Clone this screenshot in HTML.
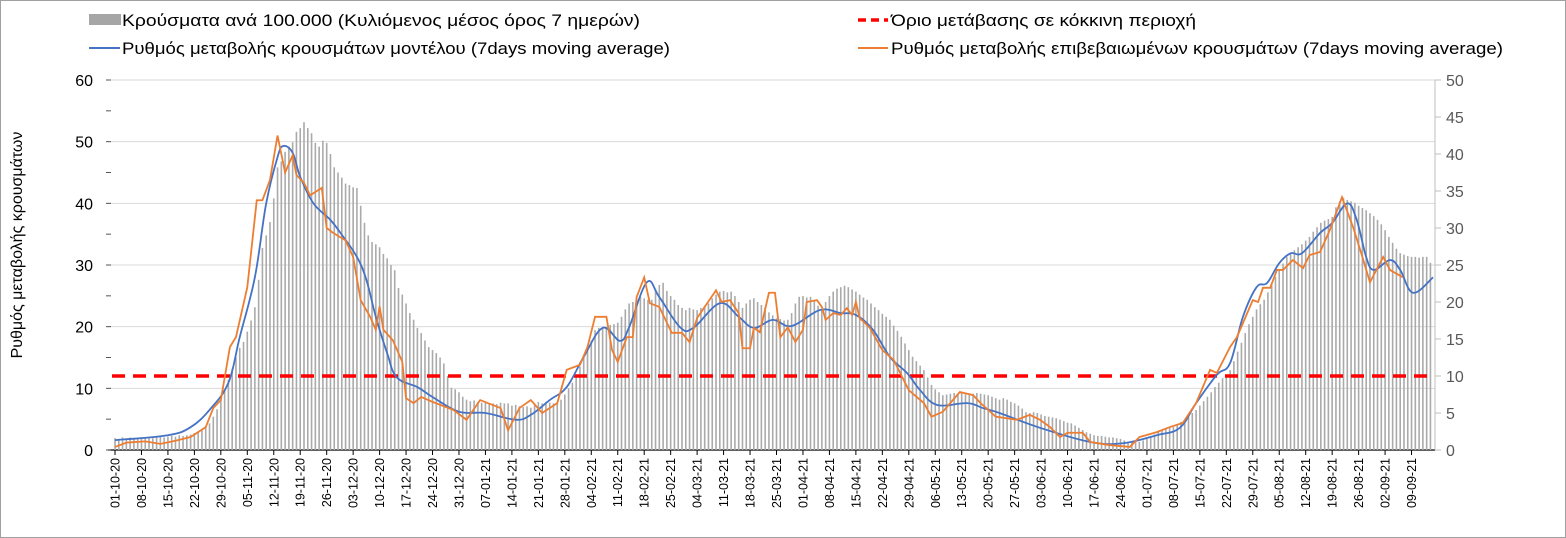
<!DOCTYPE html>
<html><head><meta charset="utf-8"><style>
html,body{margin:0;padding:0;background:#fff}
svg{display:block;font-family:"Liberation Sans",Arial,sans-serif}
</style></head><body>
<svg id="chart" width="1566" height="538" viewBox="0 0 1566 538" xmlns="http://www.w3.org/2000/svg">
<rect x="0.5" y="0.5" width="1565" height="537" fill="#fff" stroke="#a0a0a0"/>
<g id="grid"></g>
<g id="bars"></g>
<line id="thr" x1="112" x2="1435" stroke="#ff0000" stroke-width="3.5" stroke-dasharray="13,8"/>
<path id="blue" fill="none" stroke="#4472c4" stroke-width="1.8"/>
<path id="orange" fill="none" stroke="#ed7d31" stroke-width="1.8"/>
<g id="axes"></g>
<text transform="translate(22,245) rotate(-90)" text-anchor="middle" font-size="16" fill="#000">Ρυθμός μεταβολής κρουσμάτων</text>
<g font-size="17" fill="#000">
<g><rect x="89" y="14" width="32" height="11" fill="#a6a6a6"/><text x="122" y="26" textLength="518" lengthAdjust="spacingAndGlyphs">Κρούσματα ανά 100.000 (Κυλιόμενος μέσος όρος 7 ημερών)</text></g>
<g><line x1="858" x2="888" y1="20" y2="20" stroke="#ff0000" stroke-width="3.5" stroke-dasharray="8,5"/><text x="891" y="26" textLength="305" lengthAdjust="spacingAndGlyphs">Όριο μετάβασης σε κόκκινη περιοχή</text></g>
<g><line x1="89" x2="120" y1="48" y2="48" stroke="#4472c4" stroke-width="2"/><text x="122" y="54" textLength="548" lengthAdjust="spacingAndGlyphs">Ρυθμός μεταβολής κρουσμάτων μοντέλου (7days moving average)</text></g>
<g><line x1="858" x2="888" y1="48" y2="48" stroke="#ed7d31" stroke-width="2"/><text x="891" y="54" textLength="612" lengthAdjust="spacingAndGlyphs">Ρυθμός μεταβολής επιβεβαιωμένων κρουσμάτων (7days moving average)</text></g>
</g>
</svg>
<script>
const leftTicks=[0,10,20,30,40,50,60];
const rightTicks=[0,5,10,15,20,25,30,35,40,45,50];
const threshold=12;
const startDate=new Date(2020,9,1);
const caseBars=[1.6,1.5,1.7,1.6,1.7,1.6,1.5,1.7,1.6,1.7,
1.6,1.7,1.8,1.7,1.8,1.9,1.8,2.0,1.9,2.0,
2.1,2.3,2.5,2.8,3.2,3.6,4.5,5.5,6.8,8.2,
9.5,11,12.5,13.8,14.6,16,17.5,19.3,23,27.3,
29,30.8,34,38.2,39,40.3,41,41.6,43,43.5,
44.3,43.5,42.8,41.5,41,41.8,41.5,40,38.2,37.5,
36.8,36,35.8,35.5,35.4,33,30.7,29,28.1,27.8,
27.4,26.5,25.9,25,24.3,21.9,21,19.8,18.5,17.6,
16.5,15.8,14.8,13.9,13.5,13.1,12.5,11.7,10,8.4,
8.2,7.8,7.2,6.8,6.6,6.7,6.5,6.4,6.5,6.3,
6.3,6.2,6.4,6.3,6.3,6.0,6.1,5.9,5.8,5.9,
5.7,6.0,6.5,6.3,6.5,6.4,6.3,6.5,6.8,7.5,
8.3,9.1,10,11.3,12.6,13.5,14.8,16.2,16.5,16.4,
16.6,16.9,17,17.2,18,19,19.8,20,20.5,20.7,
20.5,20.3,20.3,21.5,22.3,22.6,21.5,20.8,20.3,19.6,
19.2,18.9,19.2,19,18.9,19.2,19.5,19.8,20.5,21,
21.4,21.5,21.3,21.4,20.8,20,19.2,19.8,20.3,20.5,
20,19.6,19.3,18.6,18.2,17.8,17.7,17.5,17.6,18.5,
19.8,20.7,20.8,20.6,20.7,20.1,19.5,18.9,20,20.8,
21.4,21.8,22,22.2,22,21.7,21.4,21,20.6,20.3,
19.8,19.3,18.9,18.4,18,17.6,16.8,16.1,15.3,14.4,
13.5,12.6,12,11.4,10.8,9.8,8.8,8.2,7.8,7.4,
7.5,7.6,7.7,7.6,7.7,7.7,7.5,7.6,7.7,7.6,
7.5,7.4,7.2,7.0,6.8,7.0,6.8,6.5,6.3,6.0,
5.6,5.1,5.0,5.1,5.0,4.8,4.6,4.5,4.4,4.3,
4.1,3.9,3.7,3.6,3.3,3.0,2.7,2.4,2.2,2.0,
1.9,1.9,1.8,1.7,1.7,1.6,1.5,1.3,1.1,1.1,
1.1,1.1,1.3,1.5,1.8,2.1,2.4,2.7,2.9,3.0,
3.1,3.4,3.8,4.1,4.5,5.0,5.4,6.0,6.6,7.2,
7.8,8.5,9.1,9.7,10.2,10.8,12,13.3,14.5,15.8,
17,18,19,19.7,20.3,21.3,22.4,23.4,24.3,25.2,
26.1,26.6,27,27.4,27.8,28.3,28.8,29.5,30.1,30.7,
31,31.2,31.5,32.8,33.6,34.1,33.8,33.6,33.4,33.0,
32.7,32.4,32,31.6,31.1,30.5,29.7,28.8,28,27.2,
26.6,26.4,26.2,26.1,26.1,26,26.1,26.1,25.3];
const blueDays=[0,14,20,25,30,33,37,40,43,44.5,47,49,52.5,57,60,64,66.5,69,72,74.5,80,84,91,98,106,110,115,119.5,124,129,133.6,136,140.7,144,149.5,153,160,165,169,174,179,186.5,192,196,200.5,205,209.5,213,217.5,225.5,229.6,234,244.7,258,266.7,275.6,281.7,286,291.5,295,298.4,302,304.8,308,311,314,318.8,322,326,328.5,331,333,337.3,340,343.4,348.7];
const blueVals=[1.6,2.4,3.7,6.5,10.9,18.3,28,40,47.5,49.3,48.2,44.3,40,37.3,34.9,31.3,27.6,21.6,15.7,11.8,10.2,8.6,6.2,6.0,4.9,5.7,8.1,10.2,15.1,19.8,17.7,19.9,27.2,24.8,19.9,19.8,23.8,21.6,19.8,21.1,20.1,22.7,22.2,21.9,19.5,15.1,12.5,9.7,7.3,7.6,6.8,6.0,3.6,1.3,1.1,2.4,3.6,7.6,12.2,14.1,21.6,26.4,27.1,30.3,31.9,31.9,35.2,36.8,40,37.3,31.3,29.2,30.8,29.2,25.5,28];
const orangeDays=[0,3,8,12,16,20,24,26,28,30.4,32,35,37.5,39,41,43,45,47,48,50,51.6,54.7,56,57.7,61,63,65,67.5,69,70,71,73.5,76,77,79,81,84,89.5,93,96.6,102,104,107,110,113,117,119.5,123,125,127,130,131.5,133,135.4,137,138,140,141.5,144,147.3,150,152,154,159,160.5,162.7,165,166,168,169,170.6,173,174.6,176,178,180,182,183,185.7,187,188,190,192,193.6,195,196,197,199.7,203,206,210,214,216,219,223.5,227,229,233,238.6,242,244.7,247.4,250,252,256,258,263,268.5,271,275.6,279,282.5,286,289.7,291.5,295,296.8,301,302.4,303.7,305.6,307.4,309,311.6,314.3,316,318.8,321.4,324.6,327.5,330,332,335.5,337.3,340.7];
const orangeVals=[0.5,1.2,1.4,1.0,1.5,2.1,3.7,6.8,8.1,16.7,18.3,26.4,40.5,40.5,43.8,51,45,47.8,44.6,43.3,41.3,42.5,36,35.2,34,31.3,24.3,21.6,19.5,23.3,19.5,17.8,14.3,8.4,7.6,8.6,7.8,6.5,4.9,8.1,6.8,3.2,6.8,8.1,6.0,7.6,13,13.8,16.7,21.6,21.6,16.2,14.3,18.3,18.3,24.8,28,23.8,23.2,19,19,17.5,21.4,25.9,24,24.3,22.2,16.5,16.5,19.8,19.1,25.5,25.5,18.3,19.9,17.5,19.5,24,24.3,23.2,21.1,22.2,21.9,23,21.9,24,21.4,19.8,16.2,14.6,9.7,7.6,5.4,6.2,9.4,8.9,7.6,5.4,4.9,5.7,4.9,3.7,2.1,2.8,2.8,1.3,0.8,0.5,2.1,2.9,3.7,4.4,7.6,13,12.5,16.7,18.3,24.3,24,26.3,26.3,29.2,29.2,30.8,29.5,31.6,32.1,35.7,41,36.2,31.3,27.2,31.3,29.2,28];

const X0=115, PXD=3.78, YB=450, YT=80;
const xs=d=>X0+d*PXD;
const yl=v=>YB-v*(YB-YT)/60;
const yr=v=>YB-v*(YB-YT)/50;
const NS='http://www.w3.org/2000/svg';
function mk(tag,attrs,parent){const e=document.createElementNS(NS,tag);for(const k in attrs)e.setAttribute(k,attrs[k]);parent.appendChild(e);return e;}
const grid=document.getElementById('grid'),axes=document.getElementById('axes'),bars=document.getElementById('bars');
leftTicks.forEach(t=>{
  const g=mk('line',{x1:108,x2:1435,y1:yl(t),y2:yl(t),stroke:t===0?'#000':'#d9d9d9','stroke-width':t===0?1.2:1},grid);
  
  
  const tx=mk('text',{x:93,y:yl(t)+6,'text-anchor':'end','font-size':16,fill:'#000'},axes);
  tx.textContent=t;
  
  
});
for(let v=0;v<=60;v+=5){const m=mk('line',{x1:106,x2:111,y1:yl(v),y2:yl(v),stroke:'#555','stroke-width':1},axes);

}
const ra=mk('line',{x1:1435,x2:1435,y1:YT,y2:YB,stroke:'#bfbfbf'},axes);


rightTicks.forEach(t=>{
  const m=mk('line',{x1:1435,x2:1441,y1:yr(t),y2:yr(t),stroke:'#bfbfbf'},axes);
  
  
  const tx=mk('text',{x:1446,y:yr(t)+6,'font-size':16,fill:'#595959'},axes);
  tx.textContent=t;
  
  
});
caseBars.forEach((v,i)=>{
  const b=mk('rect',{x:xs(i)-0.8,y:yr(v),width:1.6,height:YB-yr(v),fill:'#aaaaaa'},bars);
  
  
});
const thr=document.getElementById('thr');thr.setAttribute('y1',yl(threshold));thr.setAttribute('y2',yl(threshold));
function smooth(px,py){let d='M'+px[0]+','+py[0];for(let i=0;i<px.length-1;i++){const x0=px[Math.max(i-1,0)],y0=py[Math.max(i-1,0)],x1=px[i],y1=py[i],x2=px[i+1],y2=py[i+1],x3=px[Math.min(i+2,px.length-1)],y3=py[Math.min(i+2,px.length-1)];const t=0.18;d+=` C${x1+(x2-x0)*t},${y1+(y2-y0)*t} ${x2-(x3-x1)*t},${y2-(y3-y1)*t} ${x2},${y2}`;}return d;}
document.getElementById('blue').setAttribute('d',smooth(blueDays.map(xs),blueVals.map(yl)));
document.getElementById('orange').setAttribute('d','M'+orangeDays.map((d,i)=>xs(d)+','+yl(orangeVals[i])).join(' L'));
for(let d=0;d<=346;d+=7){
  const dt=new Date(startDate.getTime());dt.setDate(dt.getDate()+d);
  const s=String(dt.getDate()).padStart(2,'0')+'-'+String(dt.getMonth()+1).padStart(2,'0')+'-'+String(dt.getFullYear()%100);
  const m=mk('line',{x1:xs(d),x2:xs(d),y1:YB,y2:YB+5,stroke:'#000'},axes);
  
  
  const tx=mk('text',{transform:`translate(${xs(d)+4.5},${YB+8}) rotate(-90)`,'text-anchor':'end','font-size':12.5,fill:'#000'},axes);
  tx.textContent=s;
  
  
}
</script>
</body></html>
